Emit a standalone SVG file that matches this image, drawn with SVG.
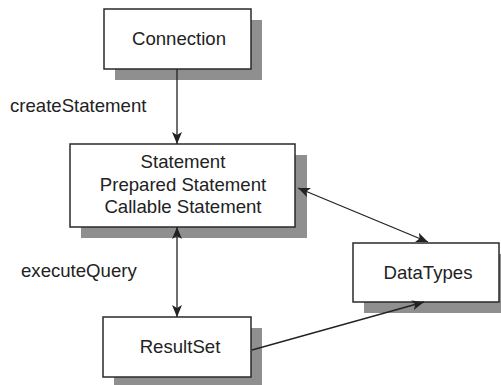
<svg xmlns="http://www.w3.org/2000/svg" width="501" height="385" viewBox="0 0 501 385">
<defs>
<style>
.box{fill:#fff;stroke:#2a2a2a;stroke-width:1.5}
.sh{fill:#8f8f90}
.t{font-family:"Liberation Sans",Arial,sans-serif;font-size:18.6px;fill:#222}
.c{text-anchor:middle}
.ln{stroke:#222;stroke-width:1.3;fill:none}
</style>
<marker id="ah" viewBox="0 0 12 10" refX="12" refY="5" markerWidth="12" markerHeight="10" markerUnits="userSpaceOnUse" orient="auto-start-reverse">
<path d="M0,0 L12,5 L0,10 L3,5 Z" fill="#222"/>
</marker>
</defs>
<rect width="501" height="385" fill="#fff"/>
<g id="connection">
<rect class="sh" x="115" y="20" width="147" height="60"/>
<rect class="box" x="104" y="9" width="147" height="60"/>
<text class="t c" x="179" y="45">Connection</text>
</g>
<g id="statement">
<rect class="sh" x="81" y="155" width="226" height="83"/>
<rect class="box" x="70" y="144" width="225" height="83"/>
<text class="t c" x="183" y="168">Statement</text>
<text class="t c" x="183" y="191">Prepared Statement</text>
<text class="t c" x="183" y="213">Callable Statement</text>
</g>
<g id="resultset">
<rect class="sh" x="114" y="328" width="148" height="60"/>
<rect class="box" x="103" y="317" width="148" height="60"/>
<text class="t c" x="180" y="353">ResultSet</text>
</g>
<g id="datatypes">
<rect class="sh" x="364" y="254" width="147" height="59"/>
<rect class="box" x="353" y="243" width="146" height="59"/>
<text class="t c" x="428" y="279">DataTypes</text>
</g>
<g id="connectors">
<line class="ln" x1="177" y1="69" x2="177" y2="144" marker-end="url(#ah)"/>
<line class="ln" x1="177" y1="227" x2="177" y2="317" marker-start="url(#ah)" marker-end="url(#ah)"/>
<line class="ln" x1="298" y1="188" x2="428" y2="242" marker-start="url(#ah)" marker-end="url(#ah)"/>
<line class="ln" x1="252" y1="350" x2="424" y2="302" marker-end="url(#ah)"/>
</g>
<g id="labels">
<text class="t" x="10" y="112">createStatement</text>
<text class="t" x="21" y="277">executeQuery</text>
</g>
</svg>
